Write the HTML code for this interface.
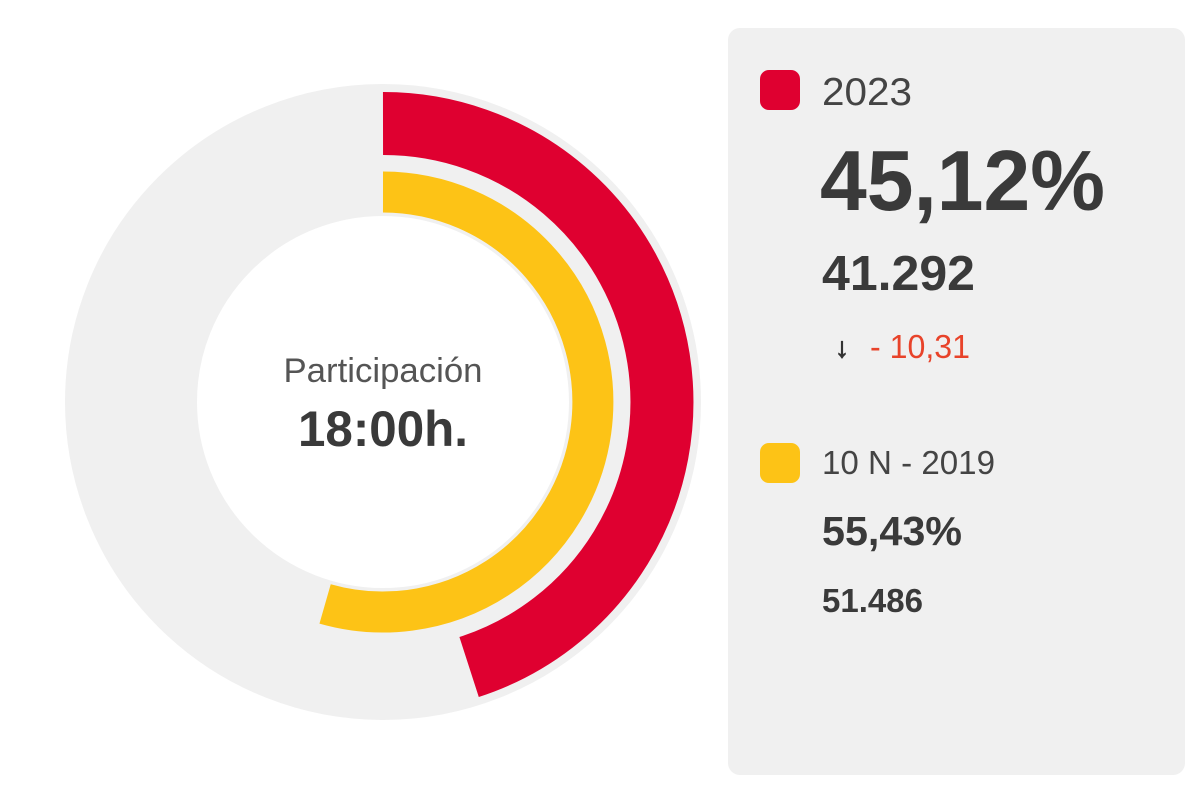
<!DOCTYPE html>
<html><head><meta charset="utf-8"><style>
html,body{margin:0;padding:0;background:#fff;width:1200px;height:805px;overflow:hidden}
text{font-family:"Liberation Sans",sans-serif}
</style></head><body>
<svg width="1200" height="805" viewBox="0 0 1200 805">
<circle cx="383" cy="402" r="252" fill="none" stroke="#f0f0f0" stroke-width="132"/>
<path d="M383 123.5 A278.5 278.5 0 0 1 469.1 667" fill="none" stroke="#df0030" stroke-width="63"/>
<path d="M383 192 A210 210 0 1 1 325.1 603.9" fill="none" stroke="#fdc316" stroke-width="41"/>
<text x="383" y="382" text-anchor="middle" font-size="34" fill="#555" textLength="199" lengthAdjust="spacingAndGlyphs">Participación</text>
<text x="383" y="446" text-anchor="middle" font-size="50" font-weight="bold" fill="#3a3a3a" textLength="170" lengthAdjust="spacingAndGlyphs">18:00h.</text>
<rect x="728" y="28" width="457" height="747" rx="12" fill="#f0f0f0"/>
<rect x="760" y="70" width="40" height="40" rx="9" fill="#df0030"/>
<text x="822" y="105" font-size="39" fill="#444" textLength="90" lengthAdjust="spacingAndGlyphs">2023</text>
<text x="820" y="210" font-size="85" font-weight="bold" fill="#3a3a3a" textLength="285" lengthAdjust="spacingAndGlyphs">45,12%</text>
<text x="822" y="290" font-size="49" font-weight="bold" fill="#3a3a3a" textLength="153" lengthAdjust="spacingAndGlyphs">41.292</text>
<text x="835" y="357" font-size="28" font-weight="bold" fill="#333" stroke="#333" stroke-width="1">↓</text>
<text x="870" y="358" font-size="33" fill="#e8432a" textLength="100" lengthAdjust="spacingAndGlyphs">- 10,31</text>
<rect x="760" y="443" width="40" height="40" rx="9" fill="#fdc316"/>
<text x="822" y="474" font-size="33" fill="#444" textLength="173" lengthAdjust="spacingAndGlyphs">10 N - 2019</text>
<text x="822" y="545" font-size="41" font-weight="bold" fill="#3a3a3a" textLength="140" lengthAdjust="spacingAndGlyphs">55,43%</text>
<text x="822" y="612" font-size="33" font-weight="bold" fill="#3a3a3a" textLength="101" lengthAdjust="spacingAndGlyphs">51.486</text>
</svg>
</body></html>
